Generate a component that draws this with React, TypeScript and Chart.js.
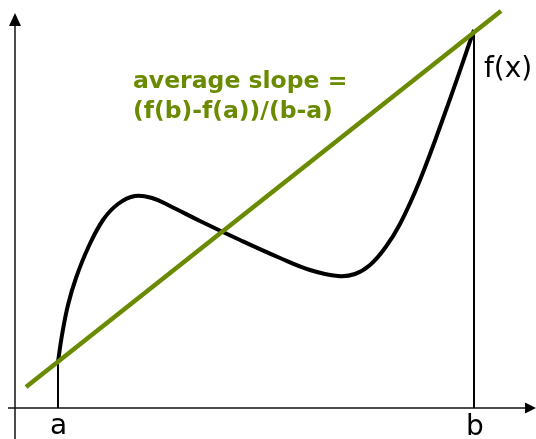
import React, { useEffect, useRef } from "react";
import { Chart, registerables } from "chart.js";

Chart.register(...registerables);

// Coordinate frame: origin where the two axes cross
const X_RANGE = [-15, 521];
const Y_RANGE = [-31, 408];

// f(x) curve samples
const curveX = [43, 47, 53, 61, 73, 88, 103, 120, 137, 155, 185, 225, 265, 295, 323, 340, 355, 370, 385, 405, 430, 459];
const curveY = [46, 73, 103, 130, 160, 188, 204, 212, 210, 202, 187, 168, 150, 138, 132, 134, 143, 160, 184, 228, 295, 378];

// a and b
const pointA = 43;
const pointB = 459;
const fA = 46;
const fB = 378;

// secant line end points
const secantX = [11, 486];
const secantY = [21, 397];

// axes extents
const xAxisX = [-7, 510];
const yAxisY = [-31, 382];
const xArrowTip = 521;
const yArrowTip = 395;

// labels
const labelTexts = ["a", "b", "f(x)"];
const labelX = [43.5, 460, 469];
const labelY = [-26, -27, 331];
const titleLines = ["average slope =", "(f(b)-f(a))/(b-a)"];
const titleX = 118;
const titleY = [320, 290];

const GREEN = "#6a8a00";

function toPts(xs: number[], ys: number[]) {
  return xs.map((x, i) => ({ x, y: ys[i] }));
}

const decorPlugin = {
  id: "decor",
  afterDatasetsDraw(chart: any) {
    const ctx = chart.ctx;
    const xs = chart.scales.x;
    const ys = chart.scales.y;
    const px = (v: number) => xs.getPixelForValue(v);
    const py = (v: number) => ys.getPixelForValue(v);
    ctx.save();
    // arrowheads
    ctx.fillStyle = "#000";
    const y0 = py(0);
    const x0 = px(0);
    ctx.beginPath();
    ctx.moveTo(px(xArrowTip), y0);
    ctx.lineTo(px(xAxisX[1]), y0 - 5.5);
    ctx.lineTo(px(xAxisX[1]), y0 + 5.5);
    ctx.closePath();
    ctx.fill();
    ctx.beginPath();
    ctx.moveTo(x0, py(yArrowTip));
    ctx.lineTo(x0 - 6, py(yAxisY[1]));
    ctx.lineTo(x0 + 6, py(yAxisY[1]));
    ctx.closePath();
    ctx.fill();
    // labels
    ctx.font = "28px 'DejaVu Sans'";
    ctx.textBaseline = "alphabetic";
    labelTexts.forEach((t, i) => {
      ctx.textAlign = i < 2 ? "center" : "left";
      ctx.fillText(t, px(labelX[i]), py(labelY[i]));
    });
    // title
    ctx.fillStyle = GREEN;
    ctx.font = "bold 23.5px 'DejaVu Sans'";
    ctx.textAlign = "left";
    titleLines.forEach((t, i) => {
      ctx.fillText(t, px(titleX), py(titleY[i]));
    });
    ctx.restore();
  },
};

export default function App() {
  const ref = useRef<HTMLCanvasElement | null>(null);
  useEffect(() => {
    if (!ref.current) return;
    const chart = new Chart(ref.current, {
      type: "line",
      data: {
        datasets: [
          {
            data: toPts(secantX, secantY),
            borderColor: GREEN,
            borderWidth: 4.5,
            pointRadius: 0,
            order: 0,
          },
          {
            data: toPts(curveX, curveY),
            borderColor: "#000",
            borderWidth: 4,
            pointRadius: 0,
            tension: 0.4,
            order: 1,
          },
          {
            data: [{ x: pointA, y: 0 }, { x: pointA, y: fA }],
            borderColor: "#000",
            borderWidth: 2,
            pointRadius: 0,
            order: 2,
          },
          {
            data: [{ x: pointB, y: 0 }, { x: pointB, y: fB }],
            borderColor: "#000",
            borderWidth: 2,
            pointRadius: 0,
            order: 2,
          },
          {
            data: [{ x: xAxisX[0], y: 0 }, { x: xAxisX[1], y: 0 }],
            borderColor: "#111",
            borderWidth: 1.5,
            pointRadius: 0,
            order: 3,
          },
          {
            data: [{ x: 0, y: yAxisY[0] }, { x: 0, y: yAxisY[1] }],
            borderColor: "#111",
            borderWidth: 1.5,
            pointRadius: 0,
            order: 3,
          },
        ],
      },
      options: {
        animation: false,
        responsive: false,
        events: [],
        layout: { padding: 0 },
        scales: {
          x: { type: "linear", min: X_RANGE[0], max: X_RANGE[1], display: false },
          y: { type: "linear", min: Y_RANGE[0], max: Y_RANGE[1], display: false },
        },
        plugins: { legend: { display: false }, tooltip: { enabled: false } },
      },
      plugins: [decorPlugin],
    });
    return () => chart.destroy();
  }, []);
  return (
    <div style={{ position: "fixed", left: 0, top: 0, width: 536, height: 439, background: "#fff" }}>
      <canvas ref={ref} width={536} height={439} style={{ width: 536, height: 439, display: "block" }} />
    </div>
  );
}
